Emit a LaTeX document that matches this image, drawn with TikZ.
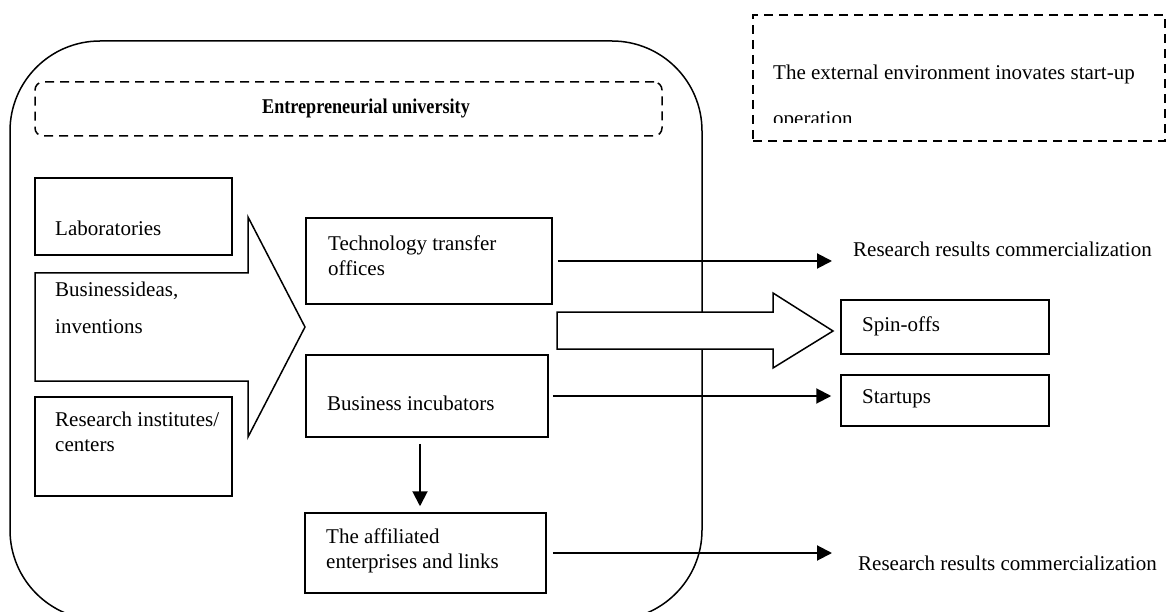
\documentclass[tikz,border=0pt]{standalone}
\usepackage{fontspec}
\setmainfont{Liberation Serif}
\usetikzlibrary{arrows.meta}
\begin{document}
\begin{tikzpicture}[x=1pt,y=-1pt,
  box/.style={draw, line width=1.5pt, inner sep=0pt},
  txt/.style={anchor=west, inner sep=0pt, align=left, font=\fontsize{21}{25}\selectfont},
  conn/.style={line width=2pt, -{Triangle[length=15pt,width=15pt]}},
  dsh/.style={draw, line width=1.5pt, dash pattern=on 9pt off 6pt},
  blk/.style={draw, line width=1.5pt, fill=white, line join=miter}
]
\useasboundingbox (0,0) rectangle (1167,612);

% entrepreneurial university frame
\node[box, rounded corners=90pt, minimum width=692pt, minimum height=579pt] (univ) at (356,330.5) {};
\node[dsh, rounded corners=8pt, minimum width=627pt, minimum height=54pt, inner sep=0pt] (eu) at (348.5,109) {};
\node[inner sep=0pt, font=\fontsize{21}{25}\selectfont\bfseries] (eutxt) at (366,108) {\scalebox{0.865}[1]{Entrepreneurial university}};

% external environment
\node[dsh, minimum width=412pt, minimum height=126pt, inner sep=0pt] (ext) at (959,78) {};
\begin{scope}
  \clip (755,17) rectangle (1163,123);
  \node[txt] (exttxt) at (773,97) {The external environment inovates start-up\\[21pt]operation};
\end{scope}

% left boxes
\node[box, minimum width=197pt, minimum height=77pt] (lab) at (133.5,216.5) {};
\node[txt] (labtxt) at (55,228) {Laboratories};
\node[box, minimum width=197pt, minimum height=99pt] (ri) at (133.5,446.5) {};
\node[txt] (ritxt) at (55,431.5) {Research institutes/\\centers};

% big block arrow
\draw[blk] (35,273) -- (248,273) -- (248,217) -- (305,327) -- (248,437) -- (248,381) -- (35,381) -- cycle;
\node[txt] (bitxt) at (55,307.5) {Businessideas,\\[12pt]inventions};

% middle boxes
\node[box, minimum width=246pt, minimum height=86pt] (tto) at (429,261) {};
\node[txt] (ttotxt) at (328,255.5) {Technology transfer\\offices};
\node[box, minimum width=242pt, minimum height=82pt] (bi) at (427,396) {};
\node[txt] (bitx) at (327,403) {Business incubators};
\node[box, minimum width=241pt, minimum height=80pt] (aff) at (425.5,553) {};
\node[txt] (afftxt) at (326,551) {The affiliated\\enterprises and links};

% right boxes
\node[box, minimum width=208pt, minimum height=54pt] (spin) at (945,327) {};
\node[txt] (spintxt) at (862,326) {Spin-offs};
\node[box, minimum width=208pt, minimum height=51pt] (start) at (945,400.5) {};
\node[txt] (starttxt) at (862,399) {Startups};

% right texts
\node[txt] (res1) at (853,249) {Research results commercialization};
\node[txt] (res2) at (858,563) {Research results commercialization};

% hollow arrow to spin-offs
\draw[blk] (557,312) -- (773,312) -- (773,293) -- (833,331) -- (773,368) -- (773,349) -- (557,349) -- cycle;

% connectors
\coordinate (t1) at (832,261);
\coordinate (t3) at (832,553);
\draw[conn] ([xshift=5pt]tto.east) -- (t1);
\draw[conn] ([xshift=4pt]bi.east) -- ([xshift=-9pt]bi.east -| start.west);
\draw[conn] ([xshift=-7pt,yshift=-6pt]bi.south) -- ([xshift=-7pt,yshift=6pt]bi.south |- aff.north);
\draw[conn] ([xshift=6pt]aff.east) -- (t3);
\end{tikzpicture}
\end{document}
